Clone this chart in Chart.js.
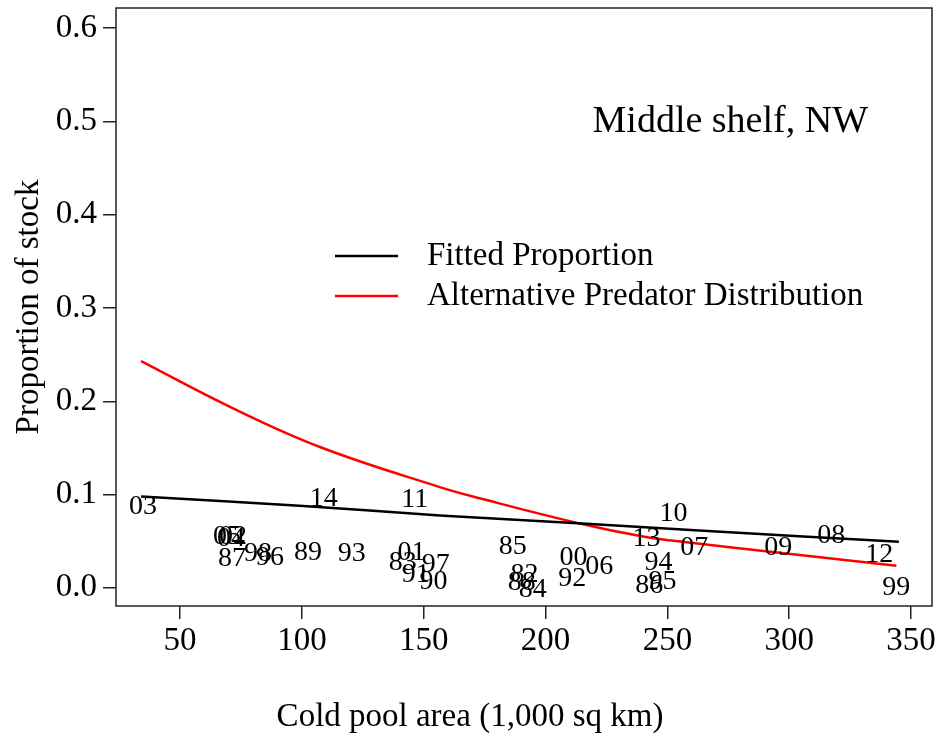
<!DOCTYPE html>
<html>
<head>
<meta charset="utf-8">
<style>
  html, body { margin: 0; padding: 0; background: #fff; }
  #wrap { width: 938px; height: 736px; }
</style>
<script src="https://cdn.jsdelivr.net/npm/chart.js@4"></script>
</head>
<body>
<div id="wrap"><canvas id="chart" width="938" height="736"></canvas></div>
<script>
// Survey years (two-digit labels) placed at their cold pool area and stock proportion
const yearLabels = ['03','14','11','10','13','08','07','09','12','99',
                    '94','95','86','85','00','06','92','82','88','84',
                    '89','93','01','83','97','91','90','05','04','02',
                    '87','98','96'];
const coldPoolArea = [34.8,109,146.3,252.5,241.4,317.2,261,295.5,337,343.9,
                      246.3,248,242.6,186.5,211.5,222,211,191.4,190.2,194.7,
                      102.5,120.5,145,141.4,154.9,146.7,154,69.3,70.9,71.7,
                      71.3,82,86.9];
const stockProportion = [0.087,0.096,0.095,0.080,0.053,0.056,0.043,0.043,0.036,0.000,
                         0.027,0.007,0.002,0.044,0.032,0.023,0.010,0.014,0.006,-0.002,
                         0.038,0.037,0.038,0.027,0.025,0.014,0.007,0.055,0.053,0.055,
                         0.031,0.037,0.032];

// Fitted proportion curve
const fittedArea = [34, 99, 156.6, 215, 263, 345];
const fittedProp = [0.098, 0.088, 0.0776, 0.069, 0.0614, 0.0495];

// Alternative predator distribution curve
const altArea = [34, 70.5, 107.4, 156.6, 173, 214, 240, 257, 296, 344];
const altProp = [0.243, 0.194, 0.151, 0.108, 0.096, 0.069, 0.055, 0.049, 0.0377, 0.0237];

const xTicks = [50, 100, 150, 200, 250, 300, 350];
const yTicks = [0, 0.1, 0.2, 0.3, 0.4, 0.5, 0.6];

const SERIF = '"Liberation Serif", "Times New Roman", serif';
const INK = '#000';
const FRAME = '#222';

const toPoints = (xs, ys) => xs.map((x, i) => ({ x: x, y: ys[i] }));

// Draws the year text at each point of the "years" dataset
const yearTextPlugin = {
  id: 'yearText',
  afterDatasetsDraw(chart) {
    const meta = chart.getDatasetMeta(2);
    const ctx = chart.ctx;
    ctx.save();
    ctx.font = '28px ' + SERIF;
    ctx.fillStyle = INK;
    ctx.textAlign = 'center';
    ctx.textBaseline = 'middle';
    meta.data.forEach((el, i) => {
      ctx.fillText(yearLabels[i], el.x, el.y);
    });
    ctx.restore();
  }
};

// Frame box, panel title, legend and x-axis caption
const annotationsPlugin = {
  id: 'annotations',
  afterDraw(chart) {
    const ctx = chart.ctx;
    const a = chart.chartArea;
    ctx.save();
    ctx.strokeStyle = FRAME;
    ctx.lineWidth = 1.5;
    ctx.strokeRect(a.left, a.top, a.right - a.left, a.bottom - a.top);

    ctx.fillStyle = INK;
    ctx.textBaseline = 'middle';

    // panel title
    ctx.font = '38px ' + SERIF;
    ctx.textAlign = 'right';
    ctx.fillText('Middle shelf, NW', a.right - 64, a.top + 114);

    // legend
    ctx.font = '33px ' + SERIF;
    ctx.textAlign = 'left';
    [0, 1].forEach((d, k) => {
      const ds = chart.data.datasets[d];
      const y = a.top + 248 + k * 40;
      ctx.strokeStyle = ds.borderColor;
      ctx.lineWidth = 2.5;
      ctx.beginPath();
      ctx.moveTo(a.left + 219, y);
      ctx.lineTo(a.left + 282, y);
      ctx.stroke();
      ctx.fillText(ds.label, a.left + 311, y);
    });

    // x-axis caption
    ctx.font = '33px ' + SERIF;
    ctx.textAlign = 'center';
    ctx.fillText('Cold pool area (1,000 sq km)', a.left + 354, a.bottom + 111);
    ctx.restore();
  }
};

new Chart(document.getElementById('chart'), {
  type: 'line',
  data: {
    datasets: [
      {
        label: 'Fitted Proportion',
        data: toPoints(fittedArea, fittedProp),
        borderColor: '#000000',
        borderWidth: 2.5,
        pointRadius: 0,
        tension: 0.4,
        fill: false
      },
      {
        label: 'Alternative Predator Distribution',
        data: toPoints(altArea, altProp),
        borderColor: '#ff0000',
        borderWidth: 2.5,
        pointRadius: 0,
        tension: 0.4,
        fill: false
      },
      {
        label: 'Years',
        type: 'scatter',
        data: toPoints(coldPoolArea, stockProportion),
        pointRadius: 0,
        showLine: false
      }
    ]
  },
  options: {
    responsive: false,
    animation: false,
    devicePixelRatio: 1,
    layout: { padding: { top: 8, right: 6, left: 0, bottom: 0 } },
    plugins: {
      legend: { display: false },
      tooltip: { enabled: false }
    },
    scales: {
      x: {
        type: 'linear',
        min: 23.7,
        max: 358.6,
        afterBuildTicks: (s) => { s.ticks = xTicks.map(v => ({ value: v })); },
        afterFit: (s) => { s.height = 130; s.paddingLeft = 0; s.paddingRight = 0; },
        grid: { drawOnChartArea: false, drawTicks: true, tickLength: 13, color: FRAME, lineWidth: 1.5 },
        border: { display: false },
        ticks: {
          font: { family: SERIF, size: 33 },
          color: INK,
          padding: 3,
          maxRotation: 0,
          autoSkip: false
        }
      },
      y: {
        min: -0.0195,
        max: 0.6217,
        afterBuildTicks: (s) => { s.ticks = yTicks.map(v => ({ value: v })); },
        afterFit: (s) => { s.width = 116; s.paddingTop = 0; s.paddingBottom = 0; },
        grid: { drawOnChartArea: false, drawTicks: true, tickLength: 13, color: FRAME, lineWidth: 1.5 },
        border: { display: false },
        ticks: {
          font: { family: SERIF, size: 33 },
          color: INK,
          padding: 6,
          callback: (v) => Number(v).toFixed(1)
        },
        title: {
          display: true,
          text: 'Proportion of stock',
          font: { family: SERIF, size: 33 },
          color: INK,
          padding: { top: 10, bottom: 0 }
        }
      }
    }
  },
  plugins: [yearTextPlugin, annotationsPlugin]
});
</script>
</body>
</html>
